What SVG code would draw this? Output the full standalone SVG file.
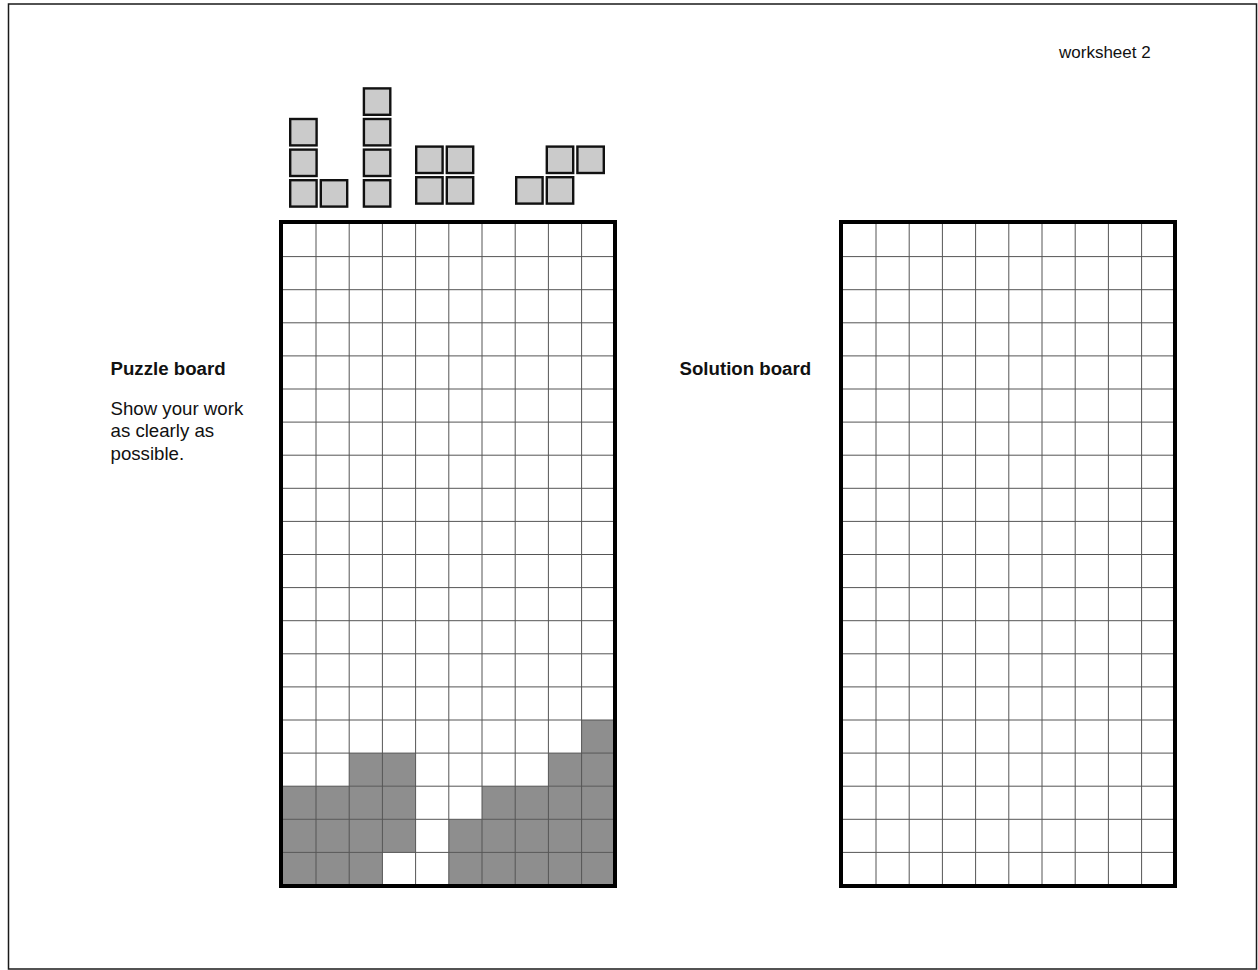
<svg xmlns="http://www.w3.org/2000/svg" xmlns:xlink="http://www.w3.org/1999/xlink" width="1258" height="970" viewBox="0 0 1258 970">
  <style>
    .frame { fill: none; stroke: #1a1a1a; stroke-width: 1.5; }
    .board { fill: none; stroke: #000; stroke-width: 4; }
    .grid { fill: none; stroke: #555; stroke-width: 1; }
    .filled { fill: #8e8e8e; stroke: none; }
    .blk { fill: #cbcbcb; stroke: #111; stroke-width: 2.4; }
    .label { font-family: "Liberation Sans", Arial, sans-serif; font-size: 18.67px; fill: #111; }
    .bold { font-weight: bold; }
    .small { font-family: "Liberation Sans", Arial, sans-serif; font-size: 17px; fill: #111; }
  </style>
  <defs>
    <path id="gridlines" class="grid" d="M316 224V884M349.2 224V884M382.4 224V884M415.6 224V884M448.8 224V884M482 224V884M515.2 224V884M548.4 224V884M581.6 224V884
      M283 256.6H613M283 289.7H613M283 322.8H613M283 355.9H613M283 389H613M283 422.1H613M283 455.2H613M283 488.3H613M283 521.4H613M283 554.5H613
      M283 587.6H613M283 620.7H613M283 653.8H613M283 686.9H613M283 720H613M283 753.1H613M283 786.2H613M283 819.3H613M283 852.4H613"/>
  </defs>
  <rect width="1258" height="970" fill="#fff"/>
  <rect class="frame" x="8.5" y="4" width="1248" height="965"/>

  <g id="title">
    <text class="small" x="1059" y="58">worksheet 2</text>
  </g>

  <g id="piece-L">
    <rect class="blk" x="290.2" y="119" width="26.4" height="26.4"/>
    <rect class="blk" x="290.2" y="149.6" width="26.4" height="26.4"/>
    <rect class="blk" x="290.2" y="180.2" width="26.4" height="26.4"/>
    <rect class="blk" x="320.8" y="180.2" width="26.4" height="26.4"/>
  </g>
  <g id="piece-I">
    <rect class="blk" x="363.9" y="88.4" width="26.4" height="26.4"/>
    <rect class="blk" x="363.9" y="119" width="26.4" height="26.4"/>
    <rect class="blk" x="363.9" y="149.6" width="26.4" height="26.4"/>
    <rect class="blk" x="363.9" y="180.2" width="26.4" height="26.4"/>
  </g>
  <g id="piece-O">
    <rect class="blk" x="416.2" y="146.6" width="26.4" height="26.4"/>
    <rect class="blk" x="446.8" y="146.6" width="26.4" height="26.4"/>
    <rect class="blk" x="416.2" y="177.2" width="26.4" height="26.4"/>
    <rect class="blk" x="446.8" y="177.2" width="26.4" height="26.4"/>
  </g>
  <g id="piece-S">
    <rect class="blk" x="516.2" y="177.2" width="26.4" height="26.4"/>
    <rect class="blk" x="546.8" y="177.2" width="26.4" height="26.4"/>
    <rect class="blk" x="546.8" y="146.6" width="26.4" height="26.4"/>
    <rect class="blk" x="577.4" y="146.6" width="26.4" height="26.4"/>
  </g>

  <g id="puzzle-label">
    <text class="label bold" x="110.5" y="375">Puzzle board</text>
    <text class="label" x="110.5" y="415">Show your work</text>
    <text class="label" x="110.5" y="437.4">as clearly as</text>
    <text class="label" x="110.5" y="459.8">possible.</text>
  </g>

  <g id="puzzle-board">
    <rect x="281" y="222" width="334" height="664" fill="#fff"/>
    <rect class="filled" x="581.6" y="720" width="33.2" height="33.1"/>
    <rect class="filled" x="349.2" y="753.1" width="66.4" height="33.1"/>
    <rect class="filled" x="548.4" y="753.1" width="66.4" height="33.1"/>
    <rect class="filled" x="282.8" y="786.2" width="132.8" height="33.1"/>
    <rect class="filled" x="482" y="786.2" width="132.8" height="33.1"/>
    <rect class="filled" x="282.8" y="819.3" width="132.8" height="33.1"/>
    <rect class="filled" x="448.8" y="819.3" width="166" height="33.1"/>
    <rect class="filled" x="282.8" y="852.4" width="99.6" height="33.1"/>
    <rect class="filled" x="448.8" y="852.4" width="166" height="33.1"/>
    <use xlink:href="#gridlines" href="#gridlines"/>
    <rect class="board" x="281" y="222" width="334" height="664"/>
  </g>

  <g id="solution-label">
    <text class="label bold" x="679.5" y="375">Solution board</text>
  </g>

  <g id="solution-board" transform="translate(560,0)">
    <rect x="281" y="222" width="334" height="664" fill="#fff"/>
    <use xlink:href="#gridlines" href="#gridlines"/>
    <rect class="board" x="281" y="222" width="334" height="664"/>
  </g>

  <g id="connectors"/>
</svg>
